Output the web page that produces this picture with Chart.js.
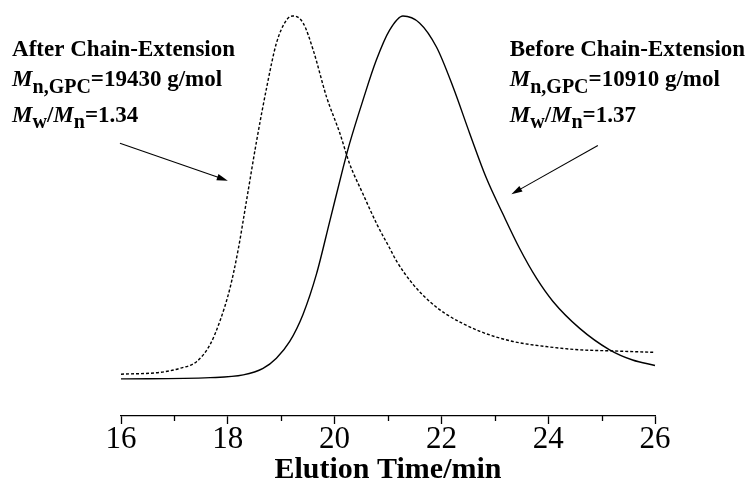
<!DOCTYPE html>
<html>
<head>
<meta charset="utf-8">
<title>GPC traces</title>
<script src="https://cdn.jsdelivr.net/npm/chart.js@4.4.1/dist/chart.umd.min.js"></script>
<style>
  html, body { margin: 0; padding: 0; background: #fff; }
  #wrap { width: 755px; height: 486px; position: relative; }
</style>
</head>
<body>
<div id="wrap"><canvas id="gpc"></canvas></div>
<script>
// GPC traces: elution time (min) vs normalised RI response
const afterTime = [16.0, 16.73, 17.10, 17.42, 17.67, 17.85, 18.04, 18.19, 18.35, 18.54, 18.73, 18.91,
  19.10, 19.22, 19.41, 19.60, 19.85, 20.10, 20.28, 20.53, 20.80, 21.03, 21.16, 21.47, 21.78, 22.09,
  22.72, 23.34, 23.96, 24.59, 25.20, 26.0];
const afterSignal = [1.5, 2.0, 3.1, 5.0, 9.7, 16.0, 25.1, 35.4, 49.2, 65.7, 80.5, 92.5,
  98.9, 100, 98.1, 90.6, 77.7, 67.7, 59.4, 51.1, 42.5, 36.2, 32.6, 26.2, 21.5, 18.0,
  13.3, 10.5, 9.1, 8.2, 7.9, 7.5];

const beforeTime = [16.0, 17.67, 18.29, 18.66, 18.91, 19.16, 19.41, 19.66, 19.91, 20.16, 20.28, 20.53,
  20.78, 21.03, 21.28, 21.59, 21.91, 22.22, 22.53, 22.84, 23.15, 23.46, 23.78, 24.09, 24.59, 25.15,
  25.58, 26.0];
const beforeSignal = [0.2, 0.55, 1.3, 3.1, 5.9, 10.5, 18.0, 29.0, 43.6, 58.3, 64.9, 76.8,
  87.8, 96.1, 100, 98.1, 91.4, 80.4, 67.7, 55.5, 45.6, 36.2, 27.9, 21.5, 14.1, 8.2,
  5.4, 3.9];

const majorTicks = [16, 18, 20, 22, 24, 26];
const minorTicks = [17, 19, 21, 23, 25];

// label blocks: [time, signal] of first baseline, and arrow [from, to]
const afterLabelAt = [13.96, 88.9];
const afterArrow = [[15.98, 65.0], [18.0, 54.7]];
const afterLines = ['After Chain-Extension', '=19430 g/mol', '=1.34'];

const beforeLabelAt = [23.28, 88.9];
const beforeArrow = [[24.93, 64.4], [23.31, 51.0]];
const beforeLines = ['Before Chain-Extension', '=10910 g/mol', '=1.37'];

const SERIF = '"Liberation Serif", "Times New Roman", serif';

function toPoints(xs, ys) {
  return xs.map((x, i) => ({ x: x, y: ys[i] }));
}

// write a run of text pieces, subscripts dropped a few px
function drawRuns(ctx, x, y, runs) {
  runs.forEach(r => {
    ctx.font = r.font;
    ctx.fillText(r.text, x, y + (r.dy || 0));
    x += ctx.measureText(r.text).width;
  });
}

function drawArrow(ctx, x0, y0, x1, y1) {
  const ang = Math.atan2(y1 - y0, x1 - x0);
  const len = 11, half = 3.2;
  ctx.beginPath();
  ctx.moveTo(x0, y0);
  ctx.lineTo(x1 - Math.cos(ang) * len * 0.8, y1 - Math.sin(ang) * len * 0.8);
  ctx.stroke();
  ctx.beginPath();
  ctx.moveTo(x1, y1);
  ctx.lineTo(x1 - Math.cos(ang) * len - Math.sin(ang) * half, y1 - Math.sin(ang) * len + Math.cos(ang) * half);
  ctx.lineTo(x1 - Math.cos(ang) * len + Math.sin(ang) * half, y1 - Math.sin(ang) * len - Math.cos(ang) * half);
  ctx.closePath();
  ctx.fill();
}

const labelPlugin = {
  id: 'gpcLabels',
  afterDraw(chart) {
    const ctx = chart.ctx;
    const xs = chart.scales.x, ys = chart.scales.y;
    const main = 'bold 23px ' + SERIF;
    const ital = 'italic bold 23px ' + SERIF;
    const sub = 'bold 20px ' + SERIF;

    ctx.save();
    ctx.fillStyle = '#000';
    ctx.strokeStyle = '#000';
    ctx.textBaseline = 'alphabetic';
    ctx.textAlign = 'left';

    // short minor ticks on the time axis
    const yb = chart.chartArea.bottom;
    ctx.lineWidth = 1.3;
    minorTicks.forEach(t => {
      const px = Math.round(xs.getPixelForValue(t)) + 0.5;
      ctx.beginPath();
      ctx.moveTo(px, yb);
      ctx.lineTo(px, yb + 5);
      ctx.stroke();
    });
    ctx.lineWidth = 1.1;

    [[afterLabelAt, afterLines, afterArrow], [beforeLabelAt, beforeLines, beforeArrow]].forEach(([at, lines, arrow]) => {
      const x = xs.getPixelForValue(at[0]);
      const y = ys.getPixelForValue(at[1]);
      drawRuns(ctx, x, y, [{ text: lines[0], font: main }]);
      drawRuns(ctx, x, y + 30, [
        { text: 'M', font: ital },
        { text: 'n,GPC', font: sub, dy: 7 },
        { text: lines[1], font: main }
      ]);
      drawRuns(ctx, x, y + 66, [
        { text: 'M', font: ital },
        { text: 'w', font: sub, dy: 6 },
        { text: '/', font: main },
        { text: 'M', font: ital },
        { text: 'n', font: sub, dy: 6 },
        { text: lines[2], font: main }
      ]);
      drawArrow(ctx,
        xs.getPixelForValue(arrow[0][0]), ys.getPixelForValue(arrow[0][1]),
        xs.getPixelForValue(arrow[1][0]), ys.getPixelForValue(arrow[1][1]));
    });
    ctx.restore();
  }
};

new Chart(document.getElementById('gpc'), {
  type: 'line',
  data: {
    datasets: [
      {
        label: 'After Chain-Extension',
        data: toPoints(afterTime, afterSignal),
        borderColor: '#000',
        borderWidth: 1.4,
        borderDash: [3, 2],
        pointRadius: 0,
        cubicInterpolationMode: 'monotone',
        clip: false
      },
      {
        label: 'Before Chain-Extension',
        data: toPoints(beforeTime, beforeSignal),
        borderColor: '#000',
        borderWidth: 1.4,
        pointRadius: 0,
        cubicInterpolationMode: 'monotone',
        clip: false
      }
    ]
  },
  options: {
    responsive: true,
    maintainAspectRatio: false,
    animation: false,
    events: [],
    layout: { padding: { left: 121, right: 100, top: 16, bottom: 1 } },
    plugins: {
      legend: { display: false },
      tooltip: { enabled: false }
    },
    scales: {
      x: {
        type: 'linear',
        min: 16,
        max: 26,
        border: { display: true, color: '#000', width: 1.3 },
        grid: {
          drawOnChartArea: false,
          tickLength: 8,
          tickWidth: 1.3,
          tickColor: c => (c.tick && majorTicks.includes(c.tick.value)) ? '#000' : 'rgba(0,0,0,0)'
        },
        ticks: {
          stepSize: 1,
          autoSkip: false,
          maxRotation: 0,
          padding: 0,
          color: '#000',
          font: { family: SERIF, size: 31, lineHeight: 1.0 },
          callback: v => majorTicks.includes(v) ? String(v) : ''
        },
        title: {
          display: true,
          text: 'Elution Time/min',
          color: '#000',
          font: { family: SERIF, size: 30, weight: 'bold', lineHeight: 1.0 },
          padding: { top: 0, bottom: 0 }
        }
      },
      y: {
        display: false,
        min: -10,
        max: 100
      }
    }
  },
  plugins: [labelPlugin]
});
</script>
</body>
</html>
